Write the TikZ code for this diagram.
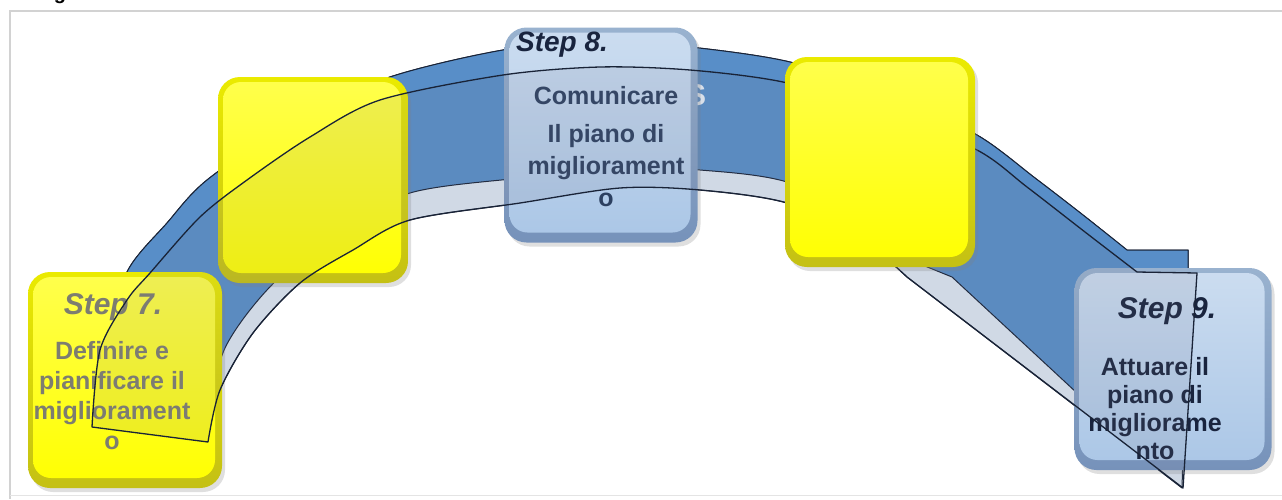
\documentclass[tikz,border=0pt]{standalone}
\usepackage{fontspec}
\setmainfont{Liberation Sans}
\usetikzlibrary{shadows}

\definecolor{yelmain}{RGB}{255,255,0}
\definecolor{yelrim}{RGB}{196,192,20}
\definecolor{bluemain}{RGB}{170,198,230}
\definecolor{bluerim}{RGB}{118,146,186}
\definecolor{bandblue}{RGB}{88,142,200}
\definecolor{bandlight}{RGB}{221,231,242}
\definecolor{edgeline}{RGB}{25,35,55}
\definecolor{framegray}{RGB}{210,210,210}
\definecolor{ghostfill}{RGB}{120,120,140}
\definecolor{titleblue}{RGB}{25,36,62}
\definecolor{bodyblue}{RGB}{44,64,96}
\definecolor{bodygray}{RGB}{125,125,112}

\tikzset{
	boxbase/.style={rounded corners=22pt, inner sep=0pt,
		drop shadow={shadow xshift=3pt, shadow yshift=-4pt, opacity=0.25}},
	yelbox/.style={boxbase, top color=yelmain!92!black, bottom color=yelrim,
		path picture={\shade[top color=yelmain!70!white, middle color=yelmain, bottom color=yelmain, rounded corners=18pt]
			([shift={(5pt,-5pt)}]path picture bounding box.north west) rectangle
			([shift={(-7pt,10pt)}]path picture bounding box.south east);}},
	bluebox/.style={boxbase, top color=bluemain!90!black, bottom color=bluerim,
		path picture={\shade[top color=bluemain!60!white, middle color=bluemain, bottom color=bluemain, rounded corners=18pt]
			([shift={(5pt,-5pt)}]path picture bounding box.north west) rectangle
			([shift={(-7pt,10pt)}]path picture bounding box.south east);}},
	steptitle/.style={font=\bfseries\itshape\fontsize{30}{32}\selectfont, inner sep=0pt},
	stepbody/.style={font=\bfseries\fontsize{25}{30}\selectfont, align=center, inner sep=0pt},
	bandedge/.style={draw=edgeline, line width=1pt, line join=round},
	ghost/.style={draw=edgeline, line width=1.3pt, fill=ghostfill, fill opacity=0.12, line join=round},
}

\begin{document}
\begin{tikzpicture}[x=1pt,y=1pt]
	\useasboundingbox (0,0) rectangle (1282,-499);
	\coordinate (C7) at (125,-380);
	\coordinate (CA) at (313,-180);
	\coordinate (C8) at (601,-135);
	\coordinate (CB) at (880,-162);
	\coordinate (C9) at (1173,-369);
	
	% frame and cut title
	\draw[framegray, line width=1.2pt] (1282,-11) -- (10,-11) -- (10,-499);
	\draw[framegray!60] (10,-495) -- (1282,-495);
	\node[font=\bfseries\fontsize{20}{24}\selectfont, anchor=base] (ttl) at (60,1) {g};
	
	% curved arrow
	\filldraw[bandedge, fill=bandlight] plot[smooth] coordinates {(108,-345) (127,-272) (167,-223) (207,-180) (295,-120) (390,-77) (503,-50) (600,-41) (690,-47) (790,-62) (890,-95) (977,-135) (1035,-178) (1083,-215) (1127,-250)}
		-- (1188,-250) -- (1188,-273) -- (1182,-488) -- (907,-277)
		-- plot[smooth] coordinates {(907,-277) (860,-238) (787,-203) (700,-190) (620,-188) (520,-203) (410,-220) (353,-250) (300,-283) (253,-333) (220,-390) (208,-442) (200,-480)} -- cycle;
	\filldraw[bandedge, fill=bandblue] plot[smooth] coordinates {(108,-345) (127,-272) (167,-223) (207,-180) (295,-120) (390,-77) (503,-50) (600,-41) (690,-47) (790,-62) (890,-95) (977,-135) (1035,-178) (1083,-215) (1127,-250)}
		-- (1188,-250) -- (1188,-273) -- (1175,-440) -- (1077,-393) -- (952,-277) -- (915,-262)
		-- plot[smooth] coordinates {(915,-262) (880,-225) (787,-182) (700,-170) (620,-168) (520,-178) (410,-193) (330,-235) (267,-290) (225,-348) (205,-420)} -- cycle;
	\node[font=\bfseries\fontsize{30}{32}\selectfont, text=white, opacity=0.85] (hid) at (696,-95) {S};
	
	% boxes
	\node[yelbox, minimum width=190pt, minimum height=206pt] (boxA) at (CA) {};
	\node[yelbox, minimum width=194pt, minimum height=216pt] (s7) at (C7) {};
	\node[bluebox, minimum width=193pt, minimum height=215pt] (s8) at (C8) {};
	\node[bluebox, minimum width=197pt, minimum height=202pt] (s9) at (C9) {};
	
	\node[steptitle, text=bodygray] (t7) at (113,-307) {Step 7.};
	\node[stepbody, text=bodygray] (b7) at (112,-396) {Definire e\\ pianificare il\\ migliorament\\ o};
	\node[steptitle, text=titleblue, font=\bfseries\itshape\fontsize{28}{30}\selectfont] (t8) at (562,-45) {Step 8.};
	\node[stepbody, text=bodyblue, font=\bfseries\fontsize{25}{32}\selectfont] (b8) at (606,-147) {Comunicare\\[6pt] Il piano di\\ migliorament\\ o};
	\node[steptitle, text=titleblue] (t9) at (1167,-311) {Step 9.};
	\node[stepbody, text=titleblue, font=\bfseries\fontsize{25}{28}\selectfont] (b9) at (1155,-409) {Attuare il\\ piano di\\ migliorame\\ nto};
	
	% outline over the boxes
	\filldraw[ghost] plot[smooth] coordinates {(92,-427) (100,-350) (127,-300) (150,-273) (200,-217) (247,-180) (310,-137) (380,-100) (503,-75) (600,-67) (690,-70) (783,-82) (880,-110) (977,-150) (1027,-187) (1085,-232) (1137,-272)}
		-- (1197,-273) -- (1183,-488) -- (907,-277)
		-- plot[smooth] coordinates {(907,-277) (860,-238) (787,-203) (700,-190) (620,-188) (520,-203) (410,-220) (353,-250) (300,-283) (253,-333) (220,-390) (208,-442)} -- cycle;
	
	\node[yelbox, minimum width=190pt, minimum height=210pt] (boxB) at (CB) {};
\end{tikzpicture}
\end{document}
